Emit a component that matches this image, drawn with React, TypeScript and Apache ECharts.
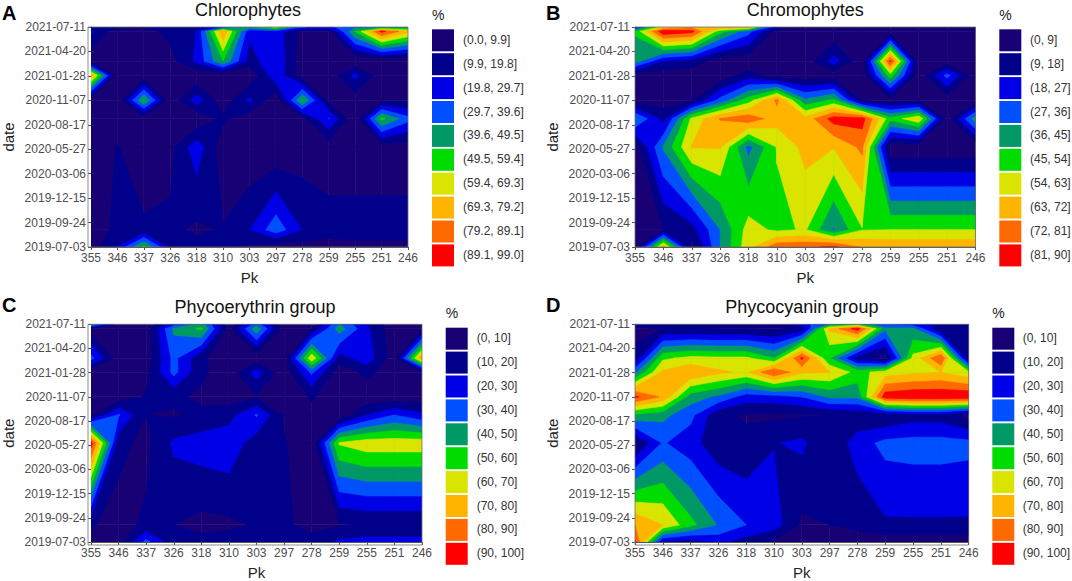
import React, { useEffect, useRef } from "react";
import * as echarts from "echarts";

const FONT = '"Liberation Sans", Arial, sans-serif';
const pkLabels = ["355", "346", "337", "326", "318", "310", "303", "297", "278", "259", "255", "251", "246"];
const dateTicks = ["2019-07-03", "2019-09-24", "2019-12-15", "2020-03-06", "2020-05-27", "2020-08-17", "2020-11-07", "2021-01-28", "2021-04-20", "2021-07-11"];
// sampling positions on the date scale, expressed in tick units
const sampleRows = [0, 0.71, 4.09, 5.25, 6, 7.02, 7.6, 8.82, 9];
const bandColors = ["#180075", "#00008B", "#0000E6", "#0050FF", "#009966", "#00DC00", "#D9E400", "#FFB400", "#FF6A00", "#FF0000"];

const chlorophytes = [
  [5, 20, 52, 16, 14, 12, 8, 3, 5, 6, 7, 7, 7],
  [5, 12, 11.5, 12, 8, 10.5, 19.5, 36, 19.5, 14, 14, 14, 14],
  [3, 10.5, 3, 6.7, 26, 3, 1, 1, 4, 4, 4, 4, 4],
  [3, 3, 3, 3, 1, 12, 3, 3, 6, 30, 1, 52, 33],
  [2, 2, 50, 2, 25, 3, 22, 1, 50, 6, 4, 7, 8],
  [78, 1, 2, 2, 2, 2, 2, 27, 4, 3, 23, 3, 3],
  [2, 2, 2, 6, 22, 49, 15, 28, 4, 3, 1, 1, 1],
  [22, 3, 5, 13, 20, 78, 22, 25, 6, 6, 50, 92, 72],
  [12, 12, 12, 12, 12, 25, 45, 62, 30, 28, 35, 35, 35],
];
const chromophytes = [
  [3, 68, 5, 36, 60, 78, 79, 83, 71, 70, 70, 70, 70],
  [3, 9, 14, 36, 58, 52, 55, 35, 53.5, 54, 54, 54, 54],
  [4, 37, 63.5, 63.5, 33, 54.5, 66, 63.5, 74, 2, 2, 2, 2],
  [37, 14, 56, 72.5, 78, 67, 66, 85, 85, 48, 62, 3, 41],
  [5, 5, 7, 30, 50, 74, 38, 47, 8, 4, 6, 3, 3],
  [3, 3, 3, 3, 13, 2, 3, 3, 2, 50, 2, 30, 2],
  [40, 18, 14, 3, 3, 2, 3, 22, 2, 83, 2, 2, 2],
  [46, 88, 84, 48, 30, 5, 2, 2, 2, 2, 2, 2, 2],
  [18, 60, 70, 70, 68, 15, 3, 2, 2, 2, 2, 2, 2],
];
const phycoerythrin = [
  [3, 5, 33, 13, 13, 14, 13, 13, 12, 22, 24, 24, 24],
  [11, 6, 12, 10, 7, 8, 11, 11, 8, 9, 10.5, 10.5, 10.5],
  [95, 13, 7, 22, 25, 27, 14, 11, 2, 61, 66, 66, 66],
  [8, 31, 10, 9, 12, 16, 31, 8, 7, 2, 20, 30, 22],
  [3, 3, 11, 12, 8, 5, 9, 3, 11, 4, 3, 3, 3],
  [3, 3, 7, 33, 12, 4, 25, 3, 32, 3, 13, 3, 5],
  [33, 4, 4, 33, 12, 3, 2, 3, 68, 15, 26, 4, 80],
  [5, 3, 3, 42, 52, 5, 47, 3, 10, 45, 22, 3, 5],
  [50, 3, 3, 25, 45, 3, 35, 3, 3, 40, 20, 3, 3],
];
const phycocyanin = [
  [92, 18, 15, 23, 15, 8, 6, 7, 6, 4, 4, 4, 4],
  [80, 70, 53, 39, 30, 25, 8, 10, 12, 18.5, 18.5, 18.5, 18.5],
  [8, 31, 24, 13, 12, 19.5, 22, 11, 25, 33, 34, 34, 33],
  [48, 43, 33, 12, 9, 8, 9, 10, 12, 10, 15, 15, 5],
  [92, 78, 45, 38, 25, 26, 30, 42, 42, 96, 99, 99, 99],
  [38, 72, 79, 72, 68, 90, 72, 70, 56, 65, 68, 70, 62],
  [12, 58, 63, 62, 62, 50, 92, 50, 14, 5, 63, 90, 10],
  [8, 10, 10, 9, 9, 8, 12, 72, 95, 42, 42, 9, 14],
  [15, 15, 15, 15, 15, 15, 25, 40, 50, 30, 25, 18, 20],
];

const levelsA = [0, 9.9, 19.8, 29.7, 39.6, 49.5, 59.4, 69.3, 79.2, 89.1];
const levelsB = [0, 9, 18, 27, 36, 45, 54, 63, 72, 81];
const levelsC = [0, 10, 20, 30, 40, 50, 60, 70, 80, 90];
const legendA = ["(0.0, 9.9]", "(9.9, 19.8]", "(19.8, 29.7]", "(29.7, 39.6]", "(39.6, 49.5]", "(49.5, 59.4]", "(59.4, 69.3]", "(69.3, 79.2]", "(79.2, 89.1]", "(89.1, 99.0]"];
const legendB = ["(0, 9]", "(9, 18]", "(18, 27]", "(27, 36]", "(36, 45]", "(45, 54]", "(54, 63]", "(63, 72]", "(72, 81]", "(81, 90]"];
const legendC = ["(0, 10]", "(10, 20]", "(20, 30]", "(30, 40]", "(40, 50]", "(50, 60]", "(60, 70]", "(70, 80]", "(80, 90]", "(90, 100]"];

const panels = [
  { tag: "A", title: "Chlorophytes", values: chlorophytes, levels: levelsA, legend: legendA, left: 88, right: 408, top: 27, bottom: 247, tagX: 2, tagY: 3, titleY: 1, lx: 432, ly: 29.3, tx: 463, pctY: 15 },
  { tag: "B", title: "Chromophytes", values: chromophytes, levels: levelsB, legend: legendB, left: 635, right: 975.5, top: 27, bottom: 247, tagX: 546, tagY: 3, titleY: 1, lx: 999.3, ly: 29.3, tx: 1030, pctY: 15 },
  { tag: "C", title: "Phycoerythrin group", values: phycoerythrin, levels: levelsC, legend: legendC, left: 88, right: 422, top: 324.3, bottom: 545, tagX: 2, tagY: 295, titleY: 298, lx: 445.7, ly: 327.7, tx: 476.7, pctY: 312.7 },
  { tag: "D", title: "Phycocyanin group", values: phycocyanin, levels: levelsC, legend: legendC, left: 635, right: 968.7, top: 324.3, bottom: 545, tagX: 546, tagY: 295, titleY: 298, lx: 992.3, ly: 327.7, tx: 1022.7, pctY: 312.7 },
];

function crossing(a: number[], b: number[], level: number) {
  const f = (level - a[2]) / (b[2] - a[2]);
  return [a[0] + (b[0] - a[0]) * f, a[1] + (b[1] - a[1]) * f];
}

// Marching-squares outlines of the part of a grid cell at or above a level.
function bandOutlines(corners: number[][], level: number) {
  const above = corners.map((p) => p[2] >= level);
  const isSaddle = above[0] === above[2] && above[1] === above[3] && above[0] !== above[1];
  const mean = (corners[0][2] + corners[1][2] + corners[2][2] + corners[3][2]) / 4;
  if (isSaddle && mean < level) {
    const highs = above[0] ? [0, 2] : [1, 3];
    return highs.map((h) => {
      const prev = corners[(h + 3) % 4];
      const next = corners[(h + 1) % 4];
      return [[corners[h][0], corners[h][1]], crossing(corners[h], next, level), crossing(corners[h], prev, level)];
    });
  }
  const pts: number[][] = [];
  for (let k = 0; k < 4; k++) {
    const a = corners[k];
    const b = corners[(k + 1) % 4];
    if (a[2] >= level) pts.push([a[0], a[1]]);
    if ((a[2] - level) * (b[2] - level) < 0) pts.push(crossing(a, b, level));
  }
  return pts.length >= 3 ? [pts] : [];
}

function contourRenderer(values: number[][], levels: number[]) {
  return (_params: any, api: any) => {
    const c = api.value(0);
    const r = api.value(1);
    const k = api.value(2);
    const corners = [
      [c, sampleRows[r], values[r][c]],
      [c + 1, sampleRows[r], values[r][c + 1]],
      [c + 1, sampleRows[r + 1], values[r + 1][c + 1]],
      [c, sampleRows[r + 1], values[r + 1][c]],
    ];
    const outlines = bandOutlines(corners, levels[k]);
    if (!outlines.length) return null;
    return {
      type: "group",
      children: outlines.map((outline) => ({
        type: "polygon",
        shape: { points: outline.map((p) => api.coord(p)) },
        style: { fill: bandColors[k], stroke: bandColors[k], lineWidth: 0.6 },
      })),
    };
  };
}

function buildOption() {
  // one item per cell and level, lowest level first, so higher bands paint over lower ones
  const cells: number[][] = [];
  for (let k = 0; k < bandColors.length; k++)
    for (let r = 0; r < sampleRows.length - 1; r++)
      for (let c = 0; c < pkLabels.length - 1; c++) cells.push([c, r, k]);
  const axisStyle = { lineStyle: { color: "#555555", width: 1 } };
  const graphic: any[] = [];
  panels.forEach((p) => {
    graphic.push({
      type: "rect",
      z: 20,
      shape: { x: p.left, y: p.top, width: p.right - p.left, height: p.bottom - p.top },
      style: { fill: "none", stroke: "#6E6E6E", lineWidth: 0.8 },
    });
    graphic.push({ type: "text", x: p.tagX, y: p.tagY, style: { text: p.tag, font: `bold 20px ${FONT}`, fill: "#000" } });
    graphic.push({ type: "text", x: p.lx, y: p.pctY - 7, style: { text: "%", font: `14px ${FONT}`, fill: "#222" } });
    p.legend.forEach((label, i) => {
      const y = p.ly + i * 23.9;
      graphic.push({ type: "rect", shape: { x: p.lx, y, width: 22, height: 22 }, style: { fill: bandColors[i] } });
      graphic.push({ type: "text", x: p.tx, y: y + 4.5, style: { text: label, font: `12px ${FONT}`, fill: "#333" } });
    });
  });
  return {
    animation: false,
    backgroundColor: "#ffffff",
    textStyle: { fontFamily: FONT },
    title: panels.map((p) => ({
      text: p.title,
      left: (p.left + p.right) / 2,
      top: p.titleY,
      textAlign: "center",
      padding: 0,
      textStyle: { fontSize: 18, fontWeight: "normal", fontFamily: FONT, color: "#111" },
    })),
    grid: panels.map((p) => ({
      left: p.left,
      top: p.top,
      width: p.right - p.left,
      height: p.bottom - p.top,
      containLabel: false,
    })),
    xAxis: panels.map((_p, i) => ({
      type: "value",
      gridIndex: i,
      min: 0,
      max: pkLabels.length - 1,
      interval: 1,
      name: "Pk",
      nameLocation: "middle",
      nameGap: 23,
      nameTextStyle: { fontSize: 15, color: "#222", fontFamily: FONT },
      axisLine: { show: true, ...axisStyle },
      axisTick: { show: true, length: 3, ...axisStyle },
      axisLabel: { color: "#4D4D4D", fontSize: 12, margin: 5, fontFamily: FONT, formatter: (v: number) => pkLabels[v] ?? "" },
      splitLine: { show: false },
    })),
    yAxis: panels.map((_p, i) => ({
      type: "value",
      gridIndex: i,
      min: 0,
      max: dateTicks.length - 1,
      interval: 1,
      name: "date",
      nameLocation: "middle",
      nameGap: 75,
      nameTextStyle: { fontSize: 15, color: "#222", fontFamily: FONT },
      axisLine: { show: true, ...axisStyle },
      axisTick: { show: true, length: 3, ...axisStyle },
      axisLabel: { color: "#4D4D4D", fontSize: 12, margin: 5, fontFamily: FONT, formatter: (v: number) => dateTicks[v] ?? "" },
      splitLine: { show: false },
    })),
    series: panels.map((p, i) => ({
      type: "custom",
      name: p.title,
      xAxisIndex: i,
      yAxisIndex: i,
      data: cells,
      encode: { x: 0, y: 1 },
      dimensions: ["col", "row", "level"],
      clip: true,
      silent: true,
      renderItem: contourRenderer(p.values, p.levels),
    })),
    graphic,
  };
}

export default function App() {
  const ref = useRef<HTMLDivElement>(null);
  useEffect(() => {
    const chart = echarts.init(ref.current!, undefined, { renderer: "svg" });
    chart.setOption(buildOption() as any);
    return () => chart.dispose();
  }, []);
  return <div ref={ref} style={{ position: "absolute", left: 0, top: 0, width: 1072, height: 581 }} />;
}
